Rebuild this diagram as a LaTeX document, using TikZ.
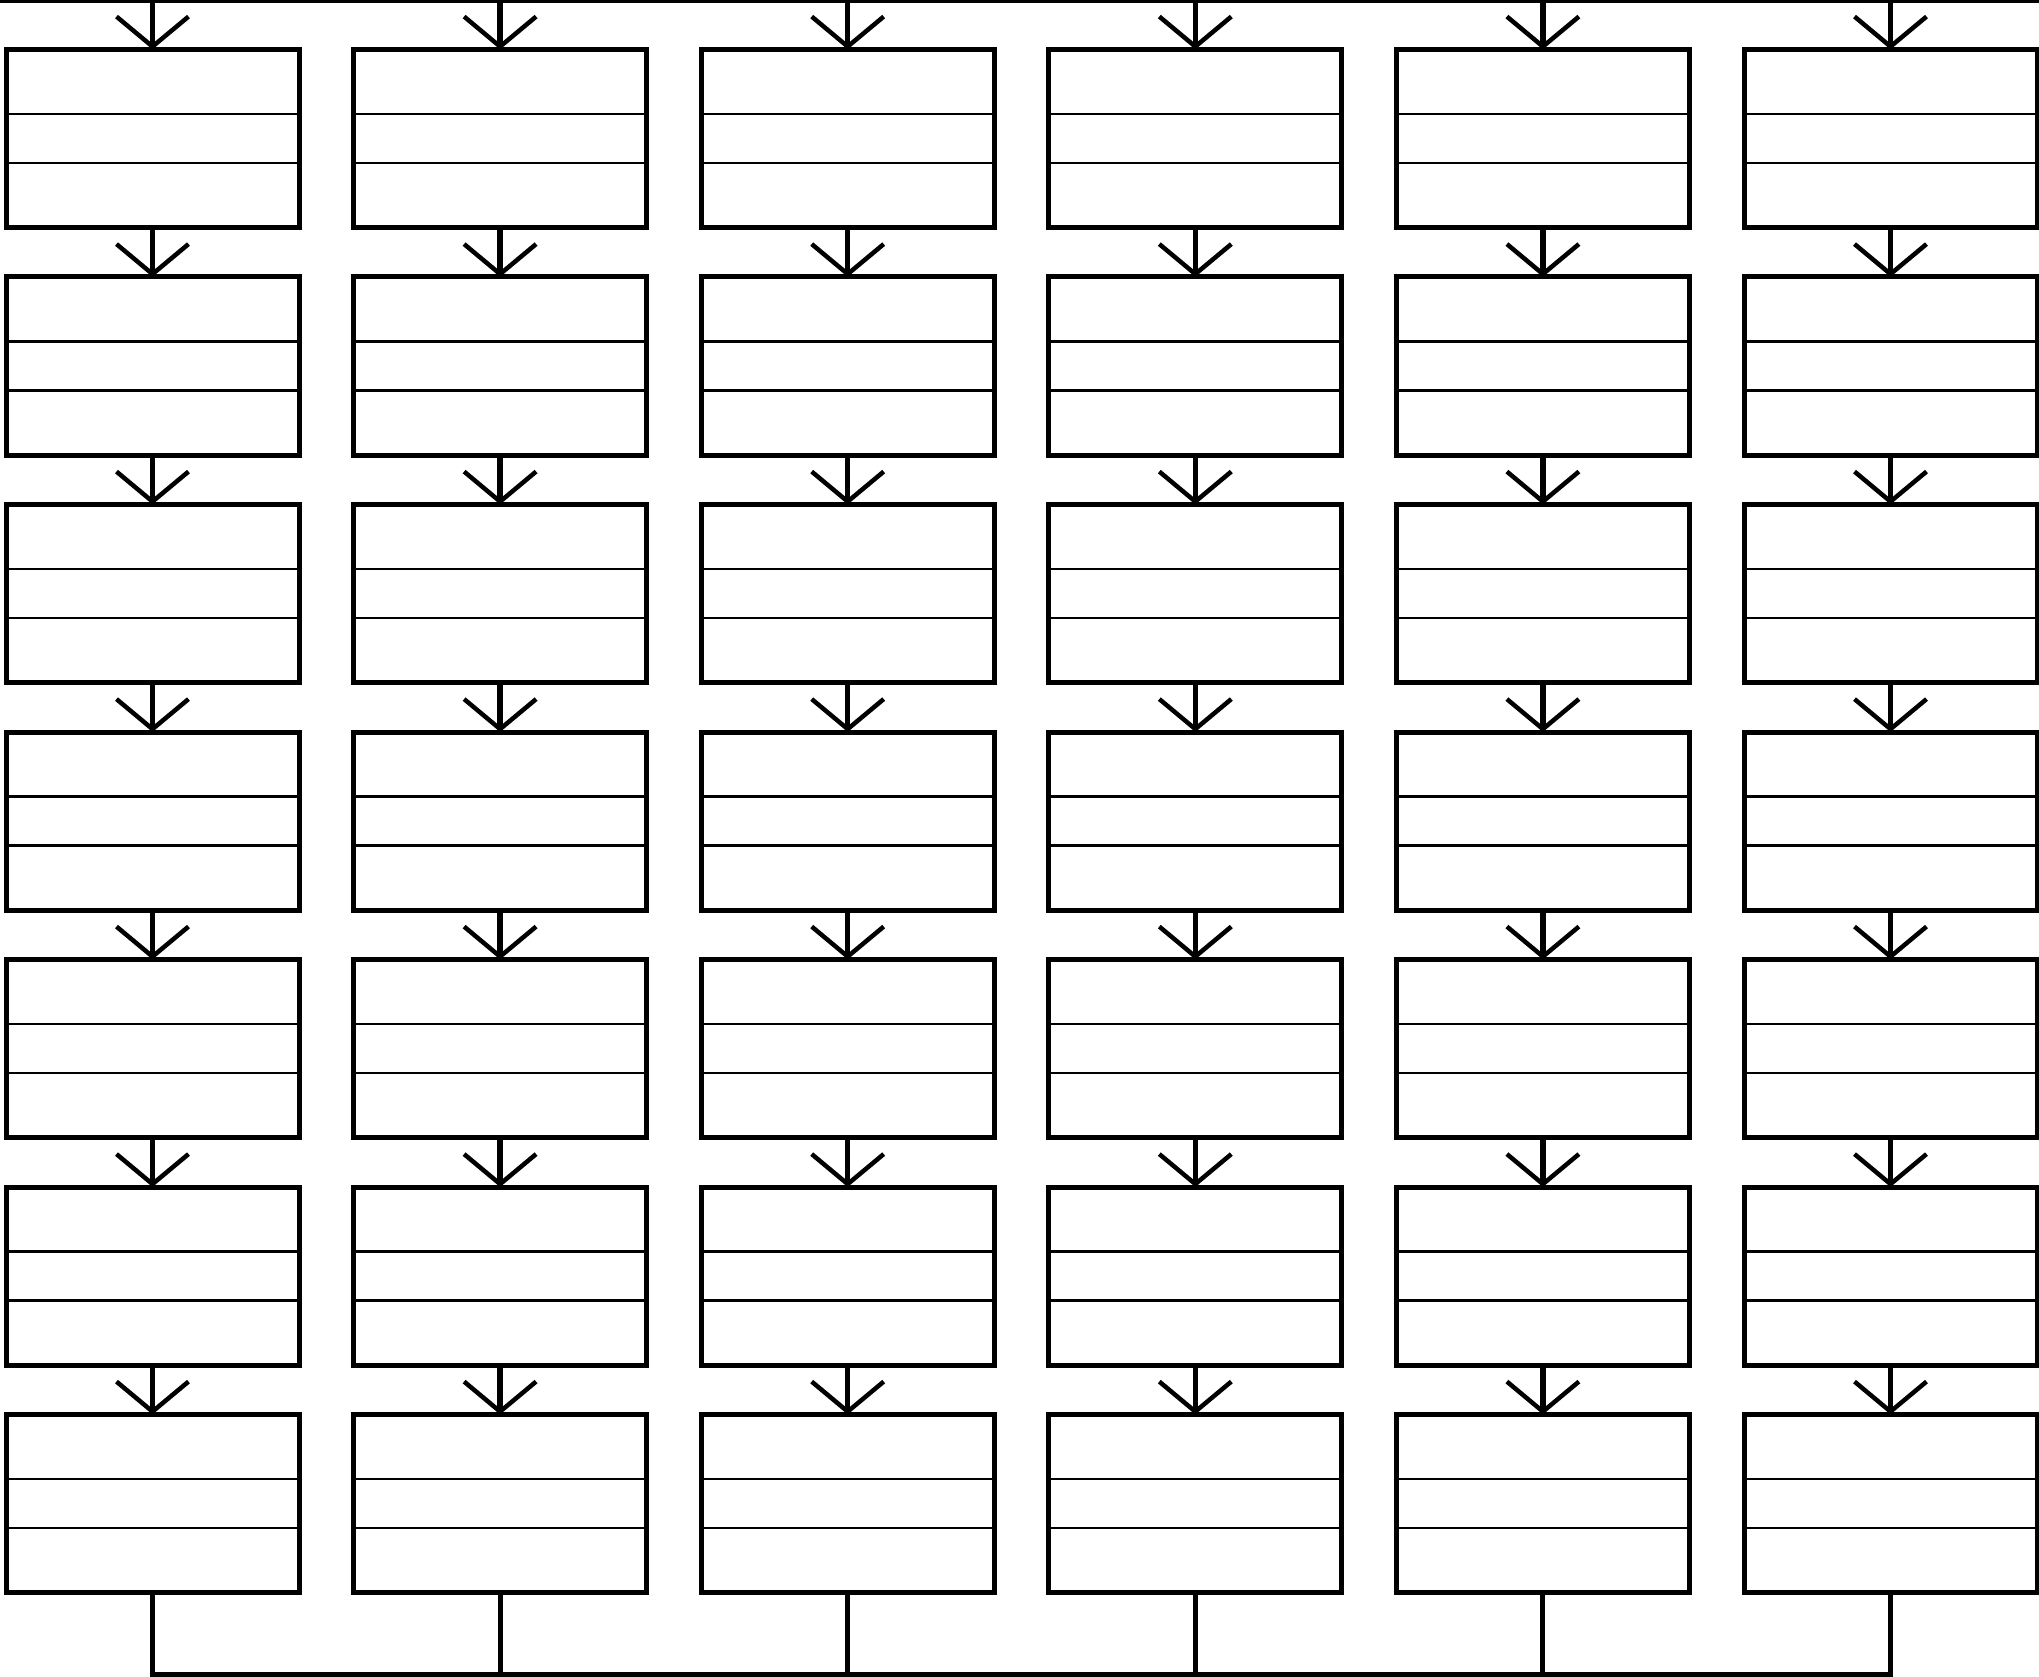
\documentclass[tikz,border=0pt]{standalone}
\usetikzlibrary{arrows.meta}
\begin{document}
\begin{tikzpicture}[x=1pt,y=-1pt,
  cellbox/.style={draw,line width=5pt,rectangle,minimum width=293pt,minimum height=178pt,inner sep=0pt,
    path picture={
      \draw[line width=2.4pt] ([yshift=24.4pt]path picture bounding box.west) -- ([yshift=24.4pt]path picture bounding box.east);
      \draw[line width=2.4pt] ([yshift=-24.4pt]path picture bounding box.west) -- ([yshift=-24.4pt]path picture bounding box.east);
    }},
  conn/.style={line width=5.5pt,shorten >=-2.5pt,-{Straight Barb[length=30pt,width=72pt,line width=4.5pt]}},
  toprule/.style={line width=2.6pt},
  botrule/.style={line width=5pt,line join=miter}]
\useasboundingbox (0,0) rectangle (2039,1677);
\foreach \r in {0,...,6}{
  \foreach \c in {0,...,5}{
    \node[cellbox] (b-\r-\c) at ({152.5+\c*347.6},{138.5+\r*227.5}) {};
  }
}
% top rule
\coordinate (topL) at (0,1.3);
\coordinate (topR) at (2039,1.3);
\draw[toprule] (topL) -- (topR);
\foreach \c in {0,...,5}{
  \coordinate (t-\c) at ({152.5+\c*347.6},1.3);
  \draw[conn] (t-\c) -- (b-0-\c.north);
}
% vertical connectors
\foreach \r in {1,...,6}{
  \pgfmathtruncatemacro\p{\r-1}
  \foreach \c in {0,...,5}{
    \draw[conn] (b-\p-\c.south) -- (b-\r-\c.north);
  }
}
% bottom collector
\foreach \c in {0,...,5}{
  \coordinate (bc-\c) at ({152.5+\c*347.6},1674.5);
}
\draw[botrule] (b-6-0.south) -- (bc-0) -- (bc-5) -- (b-6-5.south);
\foreach \c in {1,...,4}{
  \draw[botrule] (b-6-\c.south) -- (bc-\c);
}
\end{tikzpicture}
\end{document}
